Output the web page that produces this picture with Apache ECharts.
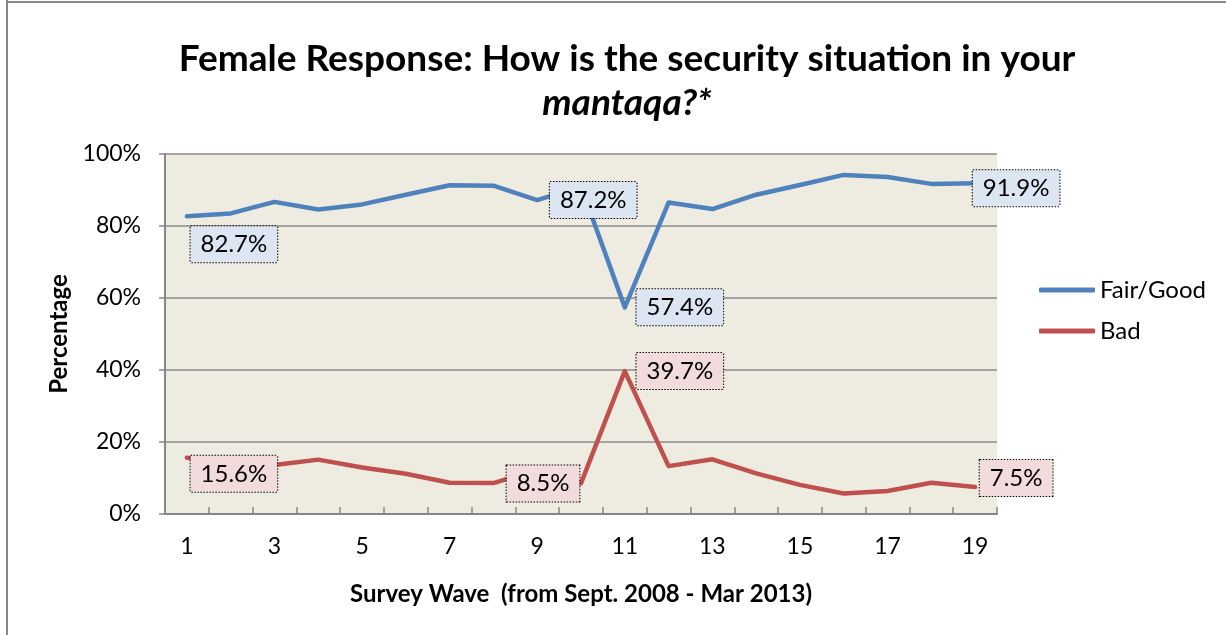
<!DOCTYPE html>
<html>
<head>
<meta charset="utf-8">
<script src="https://cdn.jsdelivr.net/npm/echarts@6/dist/echarts.min.js"></script>
<style>
html,body{margin:0;padding:0;background:#fff;}
#chart{width:1226px;height:635px;}
</style>
</head>
<body>
<div id="chart"></div>
<script>
// ---- data ----
const waves = ['1','2','3','4','5','6','7','8','9','10','11','12','13','14','15','16','17','18','19'];
const fairGood = [82.7, 83.5, 86.7, 84.6, 86.0, 88.7, 91.3, 91.2, 87.2, 91.0, 57.4, 86.5, 84.7, 88.7, 91.4, 94.2, 93.6, 91.7, 91.9];
const bad = [15.6, 14.2, 13.6, 15.1, 12.9, 11.2, 8.7, 8.6, 12.3, 8.5, 39.7, 13.3, 15.2, 11.3, 8.1, 5.7, 6.4, 8.7, 7.5];
const seriesNames = ['Fair/Good', 'Bad'];
const yTicks = [0, 20, 40, 60, 80, 100];
// labelled points (index -> label offset in px)
const fairGoodLabels = {0: [47, 28], 8: [56, 0], 10: [55, 0], 18: [41, 5]};
const badLabels = {0: [47, 16], 9: [-38, 0], 10: [55, 0], 18: [41, -9]};

const FONT = 'Lato, "Open Sans", sans-serif';

function boxLabel(offset, bg) {
  return {
    show: true,
    position: 'inside',
    offset: offset,
    formatter: p => p.value.toFixed(1) + '%',
    fontFamily: FONT,
    fontSize: 24,
    color: '#000',
    backgroundColor: bg,
    borderColor: '#000',
    borderWidth: 1,
    borderType: [1.5, 1.5],
    padding: [7, 10, 5, 10],
    align: 'center',
    verticalAlign: 'middle'
  };
}

function buildData(values, labels, bg) {
  return values.map((v, i) => {
    const item = {value: v};
    if (labels[i]) item.label = boxLabel(labels[i], bg);
    return item;
  });
}

const chart = echarts.init(document.getElementById('chart'));
chart.setOption({
  animation: false,
  backgroundColor: '#fff',
  title: {
    text: '{b|Female Response: How is the security situation in your}\n{i|mantaqa?*}',
    left: 622,
    top: 32,
    textAlign: 'center',
    textStyle: {
      rich: {
        b: {fontFamily: FONT, fontWeight: 'bold', fontSize: 37, color: '#000', lineHeight: 44},
        i: {fontFamily: FONT, fontWeight: 'bold', fontStyle: 'italic', fontSize: 37, color: '#000', lineHeight: 44}
      }
    }
  },
  legend: {
    orient: 'vertical',
    left: 1034,
    top: 273,
    itemWidth: 56,
    itemHeight: 5,
    itemGap: 17,
    textStyle: {fontFamily: FONT, fontSize: 24, color: '#000'},
    data: [
      {name: seriesNames[0], icon: 'roundRect'},
      {name: seriesNames[1], icon: 'roundRect'}
    ]
  },
  grid: {
    left: 165, right: 229, top: 154, bottom: 121,
    show: true,
    backgroundColor: '#eeebe1',
    borderWidth: 0
  },
  xAxis: {
    type: 'category',
    data: waves,
    boundaryGap: true,
    name: 'Survey Wave  (from Sept. 2008 - Mar 2013)',
    nameLocation: 'middle',
    nameGap: 68,
    nameTextStyle: {fontFamily: FONT, fontWeight: 'bold', fontSize: 24, color: '#000'},
    axisLine: {lineStyle: {color: '#868686', width: 2}},
    axisTick: {show: true, inside: true, length: 7, interval: 0, alignWithLabel: false, lineStyle: {color: '#868686', width: 1.5}},
    axisLabel: {interval: 1, margin: 21, fontFamily: FONT, fontSize: 23, color: '#000'},
    splitLine: {show: false}
  },
  yAxis: {
    type: 'value',
    min: yTicks[0],
    max: yTicks[yTicks.length - 1],
    interval: yTicks[1] - yTicks[0],
    name: 'Percentage',
    nameLocation: 'middle',
    nameGap: 93,
    nameRotate: 90,
    nameTextStyle: {fontFamily: FONT, fontWeight: 'bold', fontSize: 24, color: '#000'},
    axisLine: {show: true, lineStyle: {color: '#868686', width: 2}},
    axisTick: {show: true, inside: false, length: 6, lineStyle: {color: '#868686', width: 1.5}},
    axisLabel: {formatter: '{value}%', margin: 24, fontFamily: FONT, fontSize: 23, color: '#000'},
    splitLine: {show: true, lineStyle: {color: '#8c8c8c', width: 1.5}}
  },
  series: [
    {
      name: seriesNames[0],
      type: 'line',
      data: buildData(fairGood, fairGoodLabels, '#dce6f2'),
      color: '#4f81bd',
      lineStyle: {width: 4.5, color: '#4f81bd', cap: 'round', join: 'round'},
      showSymbol: true,
      symbol: 'circle',
      symbolSize: 1,
      itemStyle: {color: '#4f81bd'},
      label: {show: false},
      emphasis: {disabled: true},
      z: 3
    },
    {
      name: seriesNames[1],
      type: 'line',
      data: buildData(bad, badLabels, '#f2dcdb'),
      color: '#c0504d',
      lineStyle: {width: 4.5, color: '#c0504d', cap: 'round', join: 'round'},
      showSymbol: true,
      symbol: 'circle',
      symbolSize: 1,
      itemStyle: {color: '#c0504d'},
      label: {show: false},
      emphasis: {disabled: true},
      z: 3
    }
  ],
  graphic: [
    {type: 'line', shape: {x1: 7, y1: 0, x2: 7, y2: 635}, style: {stroke: '#898989', lineWidth: 2}, silent: true},
    {type: 'line', shape: {x1: 6, y1: 2, x2: 1226, y2: 2}, style: {stroke: '#898989', lineWidth: 2}, silent: true}
  ]
});
</script>
</body>
</html>
